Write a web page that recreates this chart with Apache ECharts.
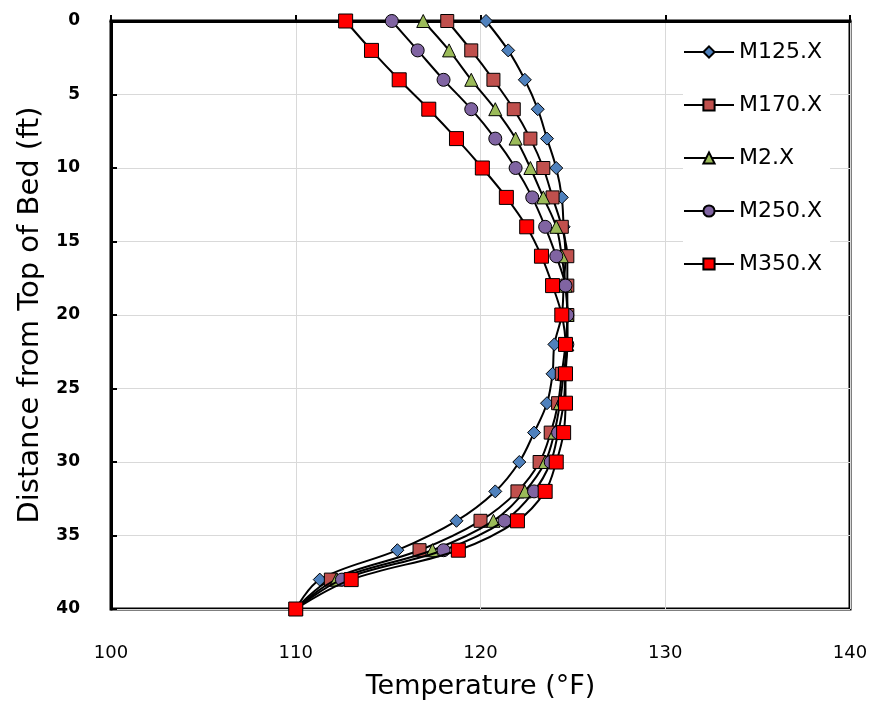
<!DOCTYPE html>
<html>
<head>
<meta charset="utf-8">
<script src="https://cdn.jsdelivr.net/npm/echarts@6/dist/echarts.min.js"></script>
<style>
  html, body { margin: 0; padding: 0; background: #fff; }
  #chart { width: 875px; height: 705px; }
</style>
</head>
<body>
<div id="chart"></div>
<script>
// depth below top of bed (ft)
var depths = [0, 2, 4, 6, 8, 10, 12, 14, 16, 18, 20, 22, 24, 26, 28, 30, 32, 34, 36, 38, 40];

// temperatures (°F) per series
var m125 = [120.3, 121.5, 122.4, 123.1, 123.6, 124.1, 124.4, 124.5, 124.6, 124.5, 124.4, 124.0, 123.9, 123.6, 122.9, 122.1, 120.8, 118.7, 115.5, 111.3, 110];
var m170 = [118.2, 119.5, 120.7, 121.8, 122.7, 123.4, 123.9, 124.4, 124.7, 124.7, 124.7, 124.6, 124.4, 124.2, 123.8, 123.2, 122.0, 120.0, 116.7, 111.9, 110];
var m2   = [116.9, 118.3, 119.5, 120.8, 121.9, 122.7, 123.4, 124.1, 124.4, 124.6, 124.7, 124.7, 124.5, 124.3, 124.0, 123.5, 122.4, 120.7, 117.4, 112.2, 110];
var m250 = [115.2, 116.6, 118.0, 119.5, 120.8, 121.9, 122.8, 123.5, 124.1, 124.6, 124.7, 124.7, 124.6, 124.5, 124.2, 123.8, 122.9, 121.3, 118.0, 112.5, 110];
var m350 = [112.7, 114.1, 115.6, 117.2, 118.7, 120.1, 121.4, 122.5, 123.3, 123.9, 124.4, 124.6, 124.6, 124.6, 124.5, 124.1, 123.5, 122.0, 118.8, 113.0, 110];

var seriesNames = ['M125.X', 'M170.X', 'M2.X', 'M250.X', 'M350.X'];
var seriesVals = [m125, m170, m2, m250, m350];
var markers = ['diamond', 'rect', 'triangle', 'circle', 'rect'];
var markerSizes = [13, 13, 13, 13, 14];
var markerColors = ['#4f81bd', '#c0504d', '#9bbb59', '#8064a2', '#ff0000'];

var FONT = 'DejaVu Sans';

function pairs(vals) {
    return vals.map(function (t, i) { return [t, depths[i]]; });
}

var chart = echarts.init(document.getElementById('chart'));

var series = seriesNames.map(function (name, i) {
    return {
        name: name,
        type: 'line',
        data: pairs(seriesVals[i]),
        smooth: 0.35,
        symbol: markers[i],
        symbolSize: markerSizes[i],
        lineStyle: { color: '#000', width: 2 },
        itemStyle: { color: markerColors[i], borderColor: '#000', borderWidth: 1 },
        z: 2 + i
    };
});

var option = {
    animation: false,
    backgroundColor: '#fff',
    grid: {
        left: 111, right: 25, top: 21, bottom: 90,
        show: true, borderColor: '#000', borderWidth: 3
    },
    legend: {
        orient: 'vertical',
        left: 683, top: 39,
        itemWidth: 50, itemHeight: 14,
        itemGap: 31,
        backgroundColor: '#fff',
        padding: [2, 8, 2, 0],
        textStyle: { fontFamily: FONT, fontSize: 22, color: '#000' },
        data: seriesNames
    },
    xAxis: {
        type: 'value',
        min: 100, max: 140, interval: 10,
        name: 'Temperature (°F)',
        nameLocation: 'middle',
        nameGap: 64,
        nameTextStyle: { fontFamily: FONT, fontSize: 27, color: '#000' },
        axisLine: { show: true, lineStyle: { color: '#000', width: 3 } },
        axisTick: { show: true, inside: true, length: 6, lineStyle: { color: '#000', width: 2 } },
        axisLabel: { fontFamily: FONT, fontSize: 18, color: '#000', margin: 35 },
        splitLine: { show: true, lineStyle: { color: '#d9d9d9', width: 1 } }
    },
    yAxis: {
        type: 'value',
        inverse: true,
        min: 0, max: 40, interval: 5,
        name: 'Distance from Top of Bed (ft)',
        nameLocation: 'middle',
        nameGap: 66,
        nameTextStyle: { fontFamily: FONT, fontSize: 29, color: '#000' },
        axisLine: { show: true, lineStyle: { color: '#000', width: 3 } },
        axisTick: { show: true, inside: true, length: 6, lineStyle: { color: '#000', width: 2 } },
        axisLabel: { fontFamily: FONT, fontSize: 17, fontWeight: 'bold', color: '#000', margin: 31 },
        splitLine: { show: true, lineStyle: { color: '#d9d9d9', width: 1 } }
    },
    series: series
};

chart.setOption(option);
</script>
</body>
</html>
